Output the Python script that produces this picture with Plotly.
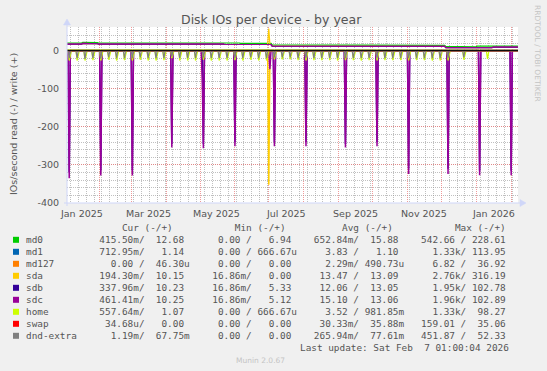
import pandas as pd
import plotly.graph_objects as go

# ---------------- data ----------------
X_START = "2025-01-03 01:00"
X_END = "2026-02-07 01:00"
DAYS = pd.date_range("2025-01-03", "2026-02-07", freq="D")

# weekly write rates (IOs/s), weeks starting 2025-01-03
week_starts = pd.date_range("2025-01-03", periods=57, freq="7D")
md0_write = [20, 20, 22, 21, 20, 20, 20, 20, 20, 20, 20, 20, 20, 21, 20, 20, 20, 20, 21, 20, 20, 20, 19, 19, 19, 19,
             15, 14, 14, 14, 14, 15, 14, 14, 14, 14, 14, 14, 14, 14, 14, 15, 14, 14, 14, 14, 14, 14,
             11, 11, 10, 10,
             12, 12, 13, 12, 12]
sd_write = [17, 17, 19, 18, 17, 17, 17, 17, 17, 17, 17, 17, 17, 18, 17, 17, 17, 17, 17, 17, 16, 15, 15, 15, 16, 16,
            12, 12, 12, 12, 12, 12, 12, 12, 12, 12, 12, 12, 12, 12, 12, 12, 12, 12, 12, 12, 11, 11,
            8, 8, 7, 7,
            8, 8, 9, 9, 9]
small_write = [1.1, 1.0, 1.0, 1.1, 1.0, 1.0, 1.0, 1.0, 1.0, 1.0, 1.0, 1.0, 1.0, 1.0, 1.0, 1.0, 1.0, 1.0, 1.0, 1.0,
               1.0, 1.0, 1.0, 1.0, 1.0, 1.0, 1.0, 1.0, 1.0, 1.0, 1.0, 1.0, 1.0, 1.0, 1.0, 1.0, 1.0, 1.0, 1.0, 1.0,
               1.0, 1.0, 1.0, 1.0, 1.0, 1.0, 1.0, 1.0, 1.0, 1.0, 1.0, 1.0, 1.0, 1.0, 1.0, 1.0, 1.0]

# monthly RAID check (first Sunday): read spikes
check_dates = ["2025-01-05", "2025-02-02", "2025-03-02", "2025-04-06", "2025-05-04", "2025-06-01", "2025-07-06",
               "2025-08-03", "2025-09-07", "2025-10-05", "2025-11-02", "2025-12-07", "2026-01-04", "2026-02-01"]
sdc_check_read = [335, 328, 328, 254, 256, 251, 251, 251, 254, 251, 324, 324, 327, 327]
sdb_check_read = [320, 315, 315, 245, 245, 240, 240, 240, 245, 240, 310, 310, 315, 315]
sdc_extra_dates = ["2025-05-03", "2025-07-02"]
sdc_extra_read = [74, 49]
sda_event_dates = ["2025-07-01"]
sda_event_read = [352]
sda_event_write = [58]

# weekly home backups (Sundays, tail on Mondays): read spikes
home_dates = ["2025-01-05", "2025-01-12", "2025-01-19", "2025-01-26", "2025-02-02", "2025-02-09", "2025-02-16",
              "2025-02-23", "2025-03-02", "2025-03-09", "2025-03-16", "2025-03-23", "2025-03-30", "2025-04-06",
              "2025-04-13", "2025-04-20", "2025-04-27", "2025-05-04", "2025-05-11", "2025-05-18", "2025-05-25",
              "2025-06-01", "2025-06-08", "2025-06-15", "2025-06-22", "2025-06-29", "2025-07-06", "2025-07-13",
              "2025-07-20", "2025-07-27", "2025-08-03", "2025-08-10", "2025-08-17", "2025-08-24", "2025-08-31",
              "2025-09-07", "2025-09-14", "2025-09-21", "2025-09-28", "2025-10-05", "2025-10-12", "2025-10-19",
              "2025-10-26", "2025-11-02", "2025-11-09", "2025-11-16", "2025-11-23", "2025-11-30", "2025-12-07",
              "2025-12-21", "2026-01-11"]
home_mon_dates = ["2025-01-06", "2025-01-13", "2025-01-20", "2025-01-27", "2025-02-03", "2025-02-10", "2025-02-17",
                  "2025-02-24", "2025-03-03", "2025-03-10", "2025-03-17", "2025-03-24", "2025-03-31", "2025-04-07",
                  "2025-04-14", "2025-04-21", "2025-04-28", "2025-05-05", "2025-05-12", "2025-05-19", "2025-05-26",
                  "2025-06-02", "2025-06-09", "2025-06-16", "2025-06-23", "2025-06-30", "2025-07-07", "2025-07-14",
                  "2025-07-21", "2025-07-28", "2025-08-04", "2025-08-11", "2025-08-18", "2025-08-25", "2025-09-01",
                  "2025-09-08", "2025-09-15", "2025-09-22", "2025-09-29", "2025-10-06", "2025-10-13", "2025-10-20",
                  "2025-10-27", "2025-11-03", "2025-11-10", "2025-11-17", "2025-11-24", "2025-12-01", "2025-12-08",
                  "2025-12-22", "2026-01-12"]
home_read = [26, 26, 26, 25, 26, 24, 26, 25, 26, 24, 26, 26, 25, 20, 26, 26, 26, 24, 26, 26, 26,
             25, 26, 24, 26, 26, 23, 23, 23, 25, 26, 25, 25, 25, 26, 25, 25, 26, 25, 26, 25, 25,
             25, 26, 25, 25, 26, 26, 26, 24, 22]
home_mon_read = [14, 14, 14, 13, 14, 12, 14, 13, 14, 12, 14, 14, 13, 10, 14, 14, 14, 12, 14, 14, 14,
                 13, 14, 12, 14, 14, 12, 12, 12, 13, 14, 13, 13, 13, 14, 13, 13, 14, 13, 14, 13, 13,
                 13, 14, 13, 13, 14, 14, 14, 12, 4]
dnd_read = [20, 20, 22, 20, 21, 18, 20, 20, 20, 18, 20, 20, 20, 16, 20, 20, 20, 18, 20, 20, 20,
            20, 20, 18, 20, 20, 18, 18, 18, 20, 20, 20, 20, 20, 20, 20, 20, 20, 20, 20, 20, 20,
            20, 20, 20, 20, 20, 20, 20, 18, 0]

# legend table text
names = ["md0", "md1", "md127", "sda", "sdb", "sdc", "home", "swap", "dnd-extra"]
colors = ["#00CC00", "#0066B3", "#FF8000", "#FFCC00", "#330099", "#990099", "#CCFF00", "#FF0000", "#808080"]
cur_r = ["415.50m", "712.95m", "0.00", "194.30m", "337.96m", "461.41m", "557.64m", "34.68u", "1.19m"]
cur_w = ["12.68", "1.14", "46.30u", "10.15", "10.23", "10.25", "1.07", "0.00", "67.75m"]
min_r = ["0.00", "0.00", "0.00", "16.86m", "16.86m", "16.86m", "0.00", "0.00", "0.00"]
min_w = ["6.94", "666.67u", "0.00", "0.00", "5.33", "5.12", "666.67u", "0.00", "0.00"]
avg_r = ["652.84m", "3.83", "2.29m", "13.47", "12.06", "15.10", "3.52", "30.33m", "265.94m"]
avg_w = ["15.88", "1.10", "490.73u", "13.09", "13.05", "13.06", "981.85m", "35.88m", "77.61m"]
max_r = ["542.66", "1.33k", "6.82", "2.76k", "1.95k", "1.96k", "1.33k", "159.01", "451.87"]
max_w = ["228.61", "113.95", "36.92", "316.19", "102.78", "102.89", "98.27", "35.06", "52.33"]

month_labels = ["Jan 2025", "Mar 2025", "May 2025", "Jul 2025", "Sep 2025", "Nov 2025", "Jan 2026"]
month_label_dates = ["2025-01-16", "2025-03-16", "2025-05-16", "2025-07-16", "2025-09-16", "2025-11-16", "2026-01-16"]
y_ticks = [-400, -300, -200, -100, 0]
y_tick_text = ["-400", "-300", "-200", "-100", "0"]

# ---------------- helpers ----------------
day_index = {d.strftime("%Y-%m-%d"): i for i, d in enumerate(DAYS)}


def weekly_to_daily(vals):
    out = []
    for d in DAYS:
        k = min(int((d - week_starts[0]).days // 7), len(vals) - 1)
        out.append(vals[k])
    return out


def events_daily(dates, vals, base=None):
    y = list(base) if base is not None else [0.0] * len(DAYS)
    for d, v in zip(dates, vals):
        if d in day_index:
            y[day_index[d]] = v
    return y


def neg(v):
    return [-a for a in v]


zeros = [0.0] * len(DAYS)
series = {
    "md0": (zeros, weekly_to_daily(md0_write)),
    "md1": (zeros, weekly_to_daily(small_write)),
    "md127": (zeros, zeros),
    "sda": (events_daily(sda_event_dates, sda_event_read),
            events_daily(sda_event_dates, sda_event_write, weekly_to_daily(sd_write))),
    "sdb": (events_daily(check_dates, sdb_check_read), weekly_to_daily(sd_write)),
    "sdc": (events_daily(sdc_extra_dates, sdc_extra_read, events_daily(check_dates, sdc_check_read)),
            weekly_to_daily(sd_write)),
    "home": (events_daily(home_mon_dates, home_mon_read, events_daily(home_dates, home_read)),
             weekly_to_daily(small_write)),
    "swap": (zeros, zeros),
    "dnd-extra": (events_daily(home_dates, dnd_read), zeros),
}

fig = go.Figure()
for name, col in zip(names, colors):
    rd, wr = series[name]
    wdt = 1.5 if name in ("sdb", "sdc", "sda") else 1.2
    fig.add_trace(go.Scatter(x=DAYS, y=neg(rd), mode="lines", line=dict(color=col, width=wdt),
                             hoverinfo="skip", showlegend=False))
    fig.add_trace(go.Scatter(x=DAYS, y=wr, mode="lines", line=dict(color=col, width=1.2),
                             hoverinfo="skip", showlegend=False))

# ---------------- layout ----------------
W, H = 547, 371
PL, PR, PT, PB = 67, 518, 27, 203


def px(x):
    return (x - PL) / (PR - PL)


def py(y):
    return (PB - y) / (PB - PT)


FONT = "DejaVu Sans"
MONO = "DejaVu Sans Mono"
TXT = "#555555"
AXC = "#CFD6F8"
MINOR = "rgba(140,140,140,0.55)"
MAJOR = "rgba(235,120,120,0.75)"

fig.update_layout(
    width=W, height=H, autosize=False,
    margin=dict(l=PL, r=W - PR, t=PT, b=H - PB, pad=0),
    paper_bgcolor="#F0F0F0", plot_bgcolor="#FFFFFF",
    font=dict(family=FONT, size=10, color=TXT),
    showlegend=False,
)
fig.update_xaxes(
    type="date", range=[X_START, X_END], tickmode="linear", tick0="2025-01-01", dtick="M1",
    showticklabels=False, ticks="", showgrid=True, gridcolor=MAJOR, gridwidth=1, griddash="1px,1px",
    minor=dict(tick0="2025-01-06", dtick=7 * 86400000, showgrid=True, gridcolor=MINOR, gridwidth=1,
               griddash="1px,1px", ticks=""),
    showline=False, zeroline=False, fixedrange=True,
)
fig.update_yaxes(
    range=[-400, 62], tickmode="array", tickvals=y_ticks, ticktext=y_tick_text,
    tickfont=dict(family=FONT, size=9.5, color=TXT), ticks="outside", ticklen=5, tickcolor="rgba(0,0,0,0)",
    showgrid=True, gridcolor=MAJOR, gridwidth=1, griddash="1px,1px",
    minor=dict(tickmode="linear", tick0=0, dtick=20, showgrid=True, gridcolor=MINOR, gridwidth=1,
               griddash="1px,1px", ticks=""),
    showline=False, zeroline=False, fixedrange=True,
)

shapes = []
# zero rule
shapes.append(dict(type="line", xref="paper", yref="y", x0=0, x1=1, y0=0, y1=0,
                   line=dict(color="#000000", width=1), layer="above"))
# axes lines + arrows
shapes.append(dict(type="line", xref="paper", yref="paper", x0=px(64), x1=px(521), y0=0, y1=0,
                   line=dict(color=AXC, width=1), layer="above"))
shapes.append(dict(type="line", xref="paper", yref="paper", x0=0, x1=0, y0=py(206), y1=py(24),
                   line=dict(color=AXC, width=1), layer="above"))
shapes.append(dict(type="path", xref="paper", yref="paper",
                   path=f"M {px(520)} {py(199.5)} L {px(526)} {py(203)} L {px(520)} {py(206.5)} Z",
                   fillcolor=AXC, line=dict(color=AXC, width=0.5), layer="above"))
shapes.append(dict(type="path", xref="paper", yref="paper",
                   path=f"M {px(63.5)} {py(25)} L {px(67)} {py(19)} L {px(70.5)} {py(25)} Z",
                   fillcolor=AXC, line=dict(color=AXC, width=0.5), layer="above"))

annotations = []


def ann(x, y, text, size=9.5, family=FONT, color=TXT, xanchor="center", angle=0, xref="paper"):
    annotations.append(dict(x=x, y=y, xref=xref, yref="paper", text=text, showarrow=False,
                            xanchor=xanchor, yanchor="middle", textangle=angle, borderpad=0,
                            font=dict(family=family, size=size, color=color)))


ann(px(271), py(20), "Disk IOs per device - by year", size=12.5, color="#555555")
ann(px(13), py(124), "IOs/second read (-) / write (+)", size=9.5, angle=-90)
ann(px(538), py(53), "RRDTOOL / TOBI OETIKER", size=7.5, color="#C4C4C4", angle=90)
for lab, d in zip(month_labels, month_label_dates):
    ann(d, py(213), lab, size=9.5, xref="x")


def fld(s):
    if s[-1].isalpha():
        return f"{s[:-1]:>6}{s[-1]}"
    return f"{s:>6} "


hdr = " " * 17 + "Cur (-/+)" + " " * 11 + "Min (-/+)" + " " * 10 + "Avg (-/+)" + " " * 11 + "Max (-/+)"
ann(px(25), py(227.7), hdr.replace(" ", "&nbsp;"), size=9.4, family=MONO, xanchor="left")
for i, nm in enumerate(names):
    yy = 239.8 + 12 * i
    row = (f"{nm:<13}" + fld(cur_r[i]) + "/ " + fld(cur_w[i]) + "   " + fld(min_r[i]) + "/ " + fld(min_w[i])
           + "   " + fld(avg_r[i]) + "/ " + fld(avg_w[i]) + "   " + fld(max_r[i]) + "/ " + fld(max_w[i]))
    ann(px(25), py(yy), row.replace(" ", "&nbsp;"), size=9.4, family=MONO, xanchor="left")
    shapes.append(dict(type="rect", xref="paper", yref="paper", x0=px(13), x1=px(19),
                       y0=py(yy + 3), y1=py(yy - 3), fillcolor=colors[i], line=dict(width=0)))
ann(px(509.5), py(347.7), "Last update: Sat Feb  7 01:00:04 2026".replace(" ", "&nbsp;"), size=9.4,
    family=MONO, xanchor="right")
ann(px(260), py(360), "Munin 2.0.67", size=7.5, color="#C4C4C4")

fig.update_layout(shapes=shapes, annotations=annotations)
fig.write_html("out.html", config={"displayModeBar": False},
               post_script="document.body.style.margin='0px';document.body.style.padding='0px';")
